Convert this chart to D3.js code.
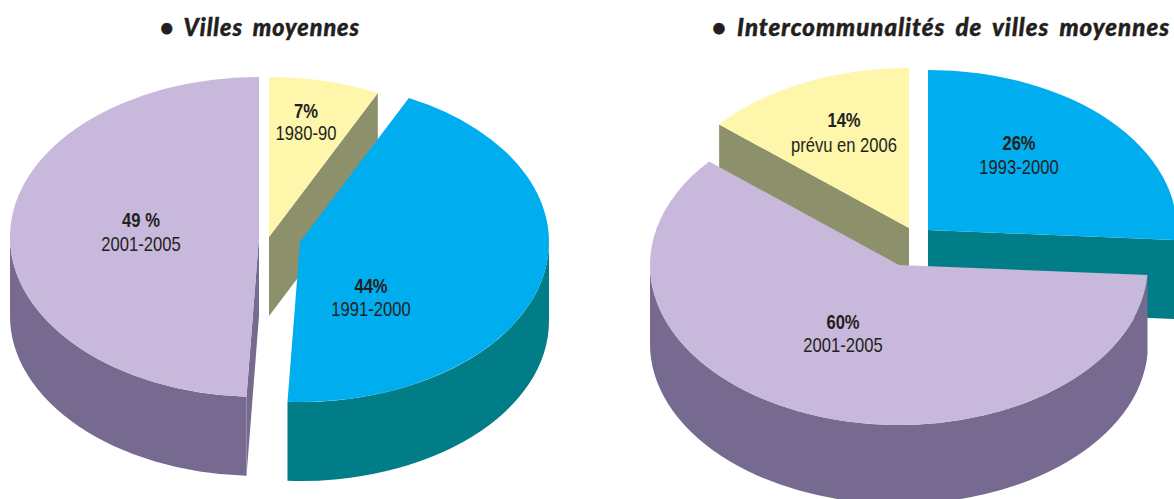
<!DOCTYPE html>
<html><head><meta charset="utf-8">
<style>
html,body{margin:0;padding:0;background:#fff}
svg{display:block}
.title{font-family:Lato,"Noto Sans",sans-serif;font-weight:900;font-style:italic;fill:#231f20;stroke:#231f20;stroke-width:.45px;font-size:24px;letter-spacing:1px;word-spacing:4px}
.pct{font-family:"Liberation Sans",sans-serif;font-weight:700;font-size:20px;fill:#231f20;text-anchor:middle}
.per{font-family:"Liberation Sans",sans-serif;font-size:20px;fill:#231f20;text-anchor:middle}
</style></head><body>
<script src="https://cdn.jsdelivr.net/npm/d3@7/dist/d3.min.js"></script>
<script>
// data
const leftShares = [7.2, 43.6, 49.2];
const leftPeriods = ["1980-90", "1991-2000", "2001-2005"];
const leftPctLabels = ["7%", "44%", "49 %"];
const rightShares = [26, 60.2, 13.8];
const rightPeriods = ["1993-2000", "2001-2005", "prévu en 2006"];
const rightPctLabels = ["26%", "60%", "14%"];
const leftTitle = "• Villes moyennes";
const rightTitle = "• Intercommunalités de villes moyennes";
// layout
const W = 1174, H = 499, RX = 249, RY = 160, DEPTH = 79, NARROW = 0.83;
const leftCentres = [[269, 237], [300, 242], [259, 237]];
const rightCentres = [[928, 230], [899, 265], [909, 228]];
const leftLabelPos = [[306, 118, 140], [371, 293, 316], [141, 227, 251]];
const rightLabelPos = [[1019, 150, 174], [843, 329, 352], [844, 127, 152]];
const leftColours = [["#fdf6ab", "#8d916b"], ["#00aeef", "#007d87"], ["#c8b8db", "#766a91"]];
const rightColours = [["#00aeef", "#007d87"], ["#c8b8db", "#766a91"], ["#fdf6ab", "#8d916b"]];

const svg = d3.select("body").append("svg").attr("width", W).attr("height", H).attr("viewBox", `0 0 ${W} ${H}`);
const pie = d3.pie().sort(null).value(d => d);
const arc = d3.arc().innerRadius(0).outerRadius(RX);
const ky = RY / RX;

function pt(c, a, dz = 0) { return [c[0] + RX * Math.sin(a), c[1] - RY * Math.cos(a) + dz]; }

function drawPie(shares, centres, colours) {
  const slices = pie(shares).map((s, i) => ({ ...s, c: centres[i], col: colours[i] }));
  slices.sort((a, b) => a.c[1] - b.c[1]);
  slices.forEach(s => {
    const g = svg.append("g");
    const a0 = s.startAngle, a1 = s.endAngle, c = s.c;
    // cut faces
    const face = (a) => {
      const p = pt(c, a), q = [c[0], c[1]];
      g.append("path").attr("fill", s.col[1])
        .attr("d", d3.line()([q, p, [p[0], p[1] + DEPTH], [q[0], q[1] + DEPTH]]) + "Z");
    };
    if (Math.sin(a0) < -1e-6) face(a0);
    if (Math.sin(a1) > 1e-6) face(a1);
    // outer wall: only the front half (90deg to 270deg) shows
    const w0 = Math.max(a0, Math.PI / 2), w1 = Math.min(a1, 3 * Math.PI / 2);
    if (w1 > w0) {
      const p0 = pt(c, w0), p1 = pt(c, w1);
      g.append("path").attr("fill", s.col[1]).attr("d",
        `M${p0}A${RX},${RY} 0 0 1 ${p1}L${p1[0]},${p1[1] + DEPTH}A${RX},${RY} 0 0 0 ${p0[0]},${p0[1] + DEPTH}Z`);
    }
    // top
    g.append("path").attr("fill", s.col[0])
      .attr("transform", `translate(${c[0]},${c[1]}) scale(1,${ky})`)
      .attr("d", arc(s));
  });
}
drawPie(leftShares, leftCentres, leftColours);
drawPie(rightShares, rightCentres, rightColours);

function labels(pcts, periods, pos) {
  pcts.forEach((t, i) => {
    svg.append("text").attr("class", "pct").attr("transform", `translate(${pos[i][0]},${pos[i][1]}) scale(${NARROW},1)`).text(t);
    svg.append("text").attr("class", "per").attr("transform", `translate(${pos[i][0]},${pos[i][2]}) scale(${NARROW},1)`).text(periods[i]);
  });
}
labels(leftPctLabels, leftPeriods, leftLabelPos);
labels(rightPctLabels, rightPeriods, rightLabelPos);

svg.append("text").attr("class", "title").attr("x", 160).attr("y", 36)
  .attr("textLength", 200).attr("lengthAdjust", "spacingAndGlyphs").text(leftTitle);
svg.append("text").attr("class", "title").attr("x", 712).attr("y", 36)
  .attr("textLength", 458).attr("lengthAdjust", "spacingAndGlyphs").text(rightTitle);
</script>
</body></html>
